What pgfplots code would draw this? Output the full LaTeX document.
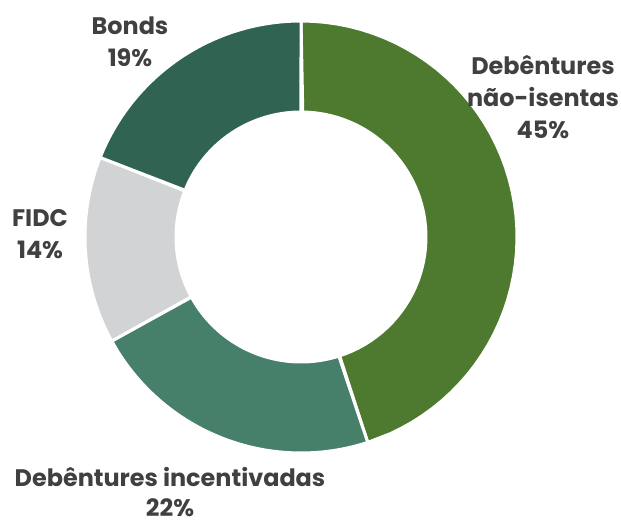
\documentclass[border=0pt]{standalone}
\usepackage{pgfplots}
\pgfplotsset{compat=1.18}
\usepackage{fontspec}
\setmainfont{Poppins}

\definecolor{cNao}{HTML}{4E7A2F}
\definecolor{cInc}{HTML}{46806A}
\definecolor{cFidc}{HTML}{D2D3D5}
\definecolor{cBonds}{HTML}{306352}
\definecolor{txt}{HTML}{404040}

% outer and inner radius (px)
\def\Ro{216}
\def\Ri{125}

% #1 cumulative percent before slice, #2 slice percent, #3 colour
\newcommand\slice[3]{%
  \addplot[fill=#3, draw=white, line width=3bp, line join=round,
    samples at={0,0.02,...,0.98,1,1.0001,1.02,...,2}, variable=\t]
    ({(\t<=1 ? \Ro : \Ri)*cos(90-3.6*(#1+#2*min(\t,2-\t)))},
     {(\t<=1 ? \Ro : \Ri)*sin(90-3.6*(#1+#2*min(\t,2-\t)))}) -- cycle;
}

\begin{document}
\begin{tikzpicture}[lbl/.style={text=txt, font=\fontsize{24}{32}\selectfont\bfseries, anchor=base, inner sep=0pt}]
\begin{axis}[
  scale only axis,
  width=621bp, height=523bp,
  xmin=-301, xmax=320, ymin=-286, ymax=237,
  hide axis, clip=false,
]
  % shares in percent: 45, 22, 14, 19
  \slice{0}{45}{cNao}
  \slice{45}{22}{cInc}
  \slice{67}{14}{cFidc}
  \slice{81}{19}{cBonds}

  \node[lbl] at (axis cs:-171,202) {Bonds};
  \node[lbl] at (axis cs:-171,170) {19\%};
  \node[lbl] at (axis cs:242,162) {Debêntures};
  \node[lbl] at (axis cs:242,130) {não-isentas};
  \node[lbl] at (axis cs:242,98) {45\%};
  \node[lbl] at (axis cs:-261,10) {FIDC};
  \node[lbl] at (axis cs:-261,-22) {14\%};
  \node[lbl] at (axis cs:-131,-250) {Debêntures incentivadas};
  \node[lbl] at (axis cs:-131,-279) {22\%};
\end{axis}
\pgfresetboundingbox
\path[use as bounding box] (current axis.south west) rectangle (current axis.north east);
\end{tikzpicture}
\end{document}
